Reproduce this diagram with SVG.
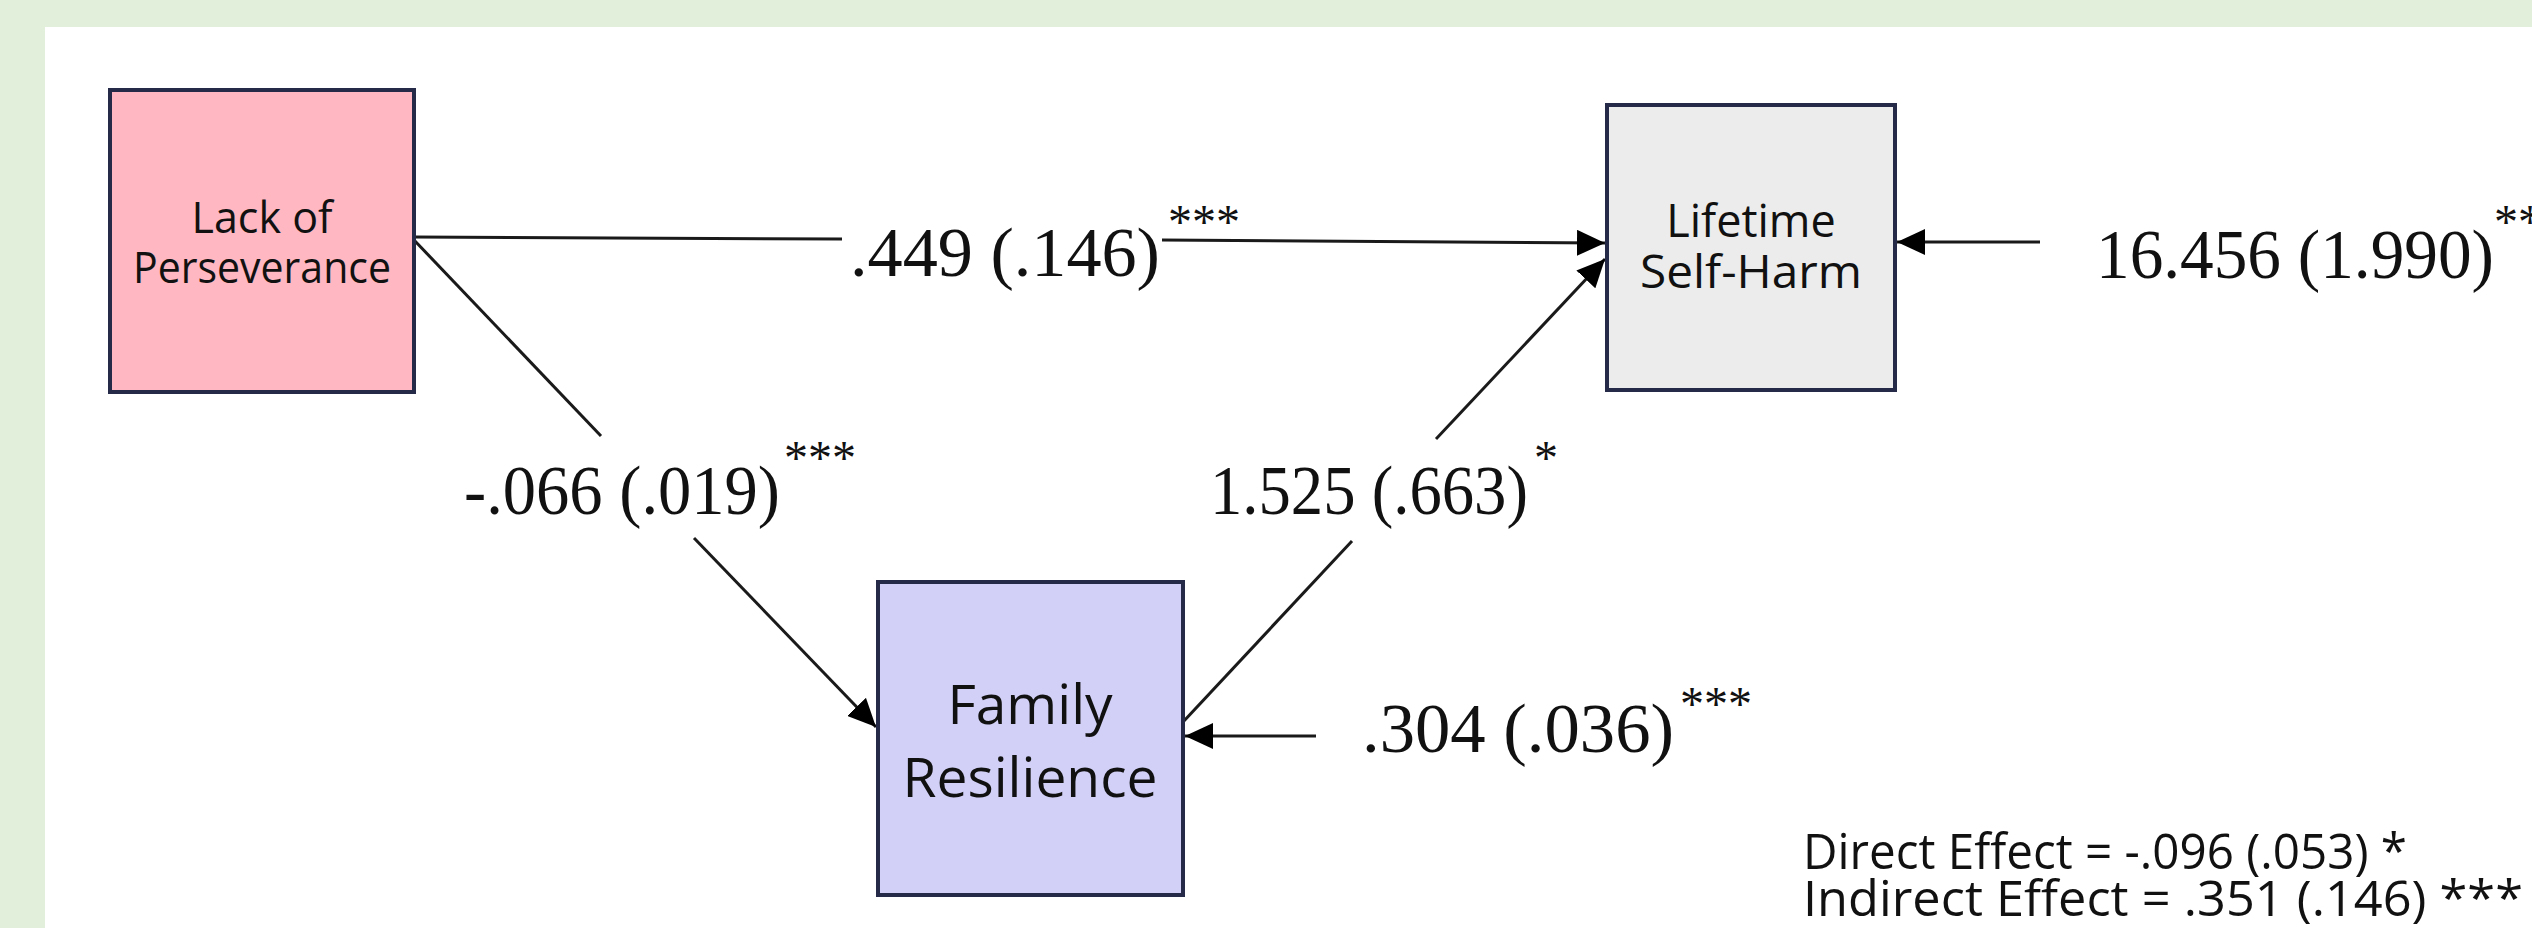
<svg xmlns="http://www.w3.org/2000/svg" width="2532" height="928" viewBox="0 0 2532 928">
  <defs>
    <marker id="arrow" viewBox="0 0 28 26" refX="28" refY="13" markerWidth="28" markerHeight="26" markerUnits="userSpaceOnUse" orient="auto">
      <path d="M0,0 L28,13 L0,26 z" fill="#000"/>
    </marker>
    <style>
      .box { stroke: #252a48; stroke-width: 4; }
      .lbl { font-family: "Open Sans", "Noto Sans", sans-serif; fill: #111; text-anchor: middle; }
      .coef { font-family: "Liberation Serif", "Times New Roman", serif; font-size: 70px; fill: #111; }
      .sup { font-family: "Liberation Serif", "Times New Roman", serif; font-size: 48px; fill: #111; }
      .note { font-family: "Open Sans", "Noto Sans", sans-serif; font-size: 49px; fill: #111; }
      .edge { stroke: #1a1a1a; stroke-width: 3; fill: none; }
    </style>
  </defs>

  <!-- page background and white panel -->
  <rect x="0" y="0" width="2532" height="928" fill="#e2efda"/>
  <rect x="45" y="27" width="2487" height="901" fill="#ffffff"/>

  <!-- connectors -->
  <g id="connectors">
    <!-- Lack of Perseverance -> Lifetime Self-Harm -->
    <line class="edge" x1="414" y1="237" x2="842" y2="239"/>
    <line class="edge" x1="1162" y1="240" x2="1605" y2="243" marker-end="url(#arrow)"/>
    <!-- Lack of Perseverance -> Family Resilience -->
    <line class="edge" x1="414" y1="240" x2="601" y2="436"/>
    <line class="edge" x1="694" y1="538" x2="876" y2="727" marker-end="url(#arrow)"/>
    <!-- Family Resilience -> Lifetime Self-Harm -->
    <line class="edge" x1="1183" y1="722" x2="1352" y2="541"/>
    <line class="edge" x1="1436" y1="439" x2="1605" y2="259" marker-end="url(#arrow)"/>
    <!-- residual terms -->
    <line class="edge" x1="1316" y1="736" x2="1185" y2="736" marker-end="url(#arrow)"/>
    <line class="edge" x1="2040" y1="242" x2="1897" y2="242" marker-end="url(#arrow)"/>
  </g>

  <!-- nodes -->
  <g id="lack-of-perseverance">
    <rect class="box" x="110" y="90" width="304" height="302" fill="#ffb7c2"/>
    <text class="lbl" x="262" y="233" font-size="43">Lack of</text>
    <text class="lbl" x="262" y="283" font-size="43" textLength="258" lengthAdjust="spacingAndGlyphs">Perseverance</text>
  </g>

  <g id="lifetime-self-harm">
    <rect class="box" x="1607" y="105" width="288" height="285" fill="#ececec"/>
    <text class="lbl" x="1751" y="237" font-size="45">Lifetime</text>
    <text class="lbl" x="1751" y="288" font-size="45" textLength="222" lengthAdjust="spacingAndGlyphs">Self-Harm</text>
  </g>

  <g id="family-resilience">
    <rect class="box" x="878" y="582" width="305" height="313" fill="#d2d0f7"/>
    <text class="lbl" x="1030" y="724" font-size="55">Family</text>
    <text class="lbl" x="1030" y="797" font-size="55" textLength="255" lengthAdjust="spacingAndGlyphs">Resilience</text>
  </g>

  <!-- path coefficients -->
  <g id="coefficients">
    <text class="coef" x="850" y="276" textLength="310" lengthAdjust="spacingAndGlyphs">.449 (.146)</text>
    <text class="sup" x="1168" y="238">***</text>
    <text class="coef" x="464" y="514" textLength="316" lengthAdjust="spacingAndGlyphs">-.066 (.019)</text>
    <text class="sup" x="784" y="474">***</text>
    <text class="coef" x="1210" y="514" textLength="318" lengthAdjust="spacingAndGlyphs">1.525 (.663)</text>
    <text class="sup" x="1534" y="474">*</text>
    <text class="coef" x="1362" y="752" textLength="312" lengthAdjust="spacingAndGlyphs">.304 (.036)</text>
    <text class="sup" x="1680" y="720">***</text>
    <text class="coef" x="2096" y="278" textLength="398" lengthAdjust="spacingAndGlyphs">16.456 (1.990)</text>
    <text class="sup" x="2494" y="238">**</text>
  </g>

  <!-- effect summary -->
  <g id="effects">
    <text class="note" x="1803" y="869" textLength="604" lengthAdjust="spacingAndGlyphs">Direct Effect = -.096 (.053) *</text>
    <text class="note" x="1803" y="916" textLength="720" lengthAdjust="spacingAndGlyphs">Indirect Effect = .351 (.146) ***</text>
  </g>
</svg>
